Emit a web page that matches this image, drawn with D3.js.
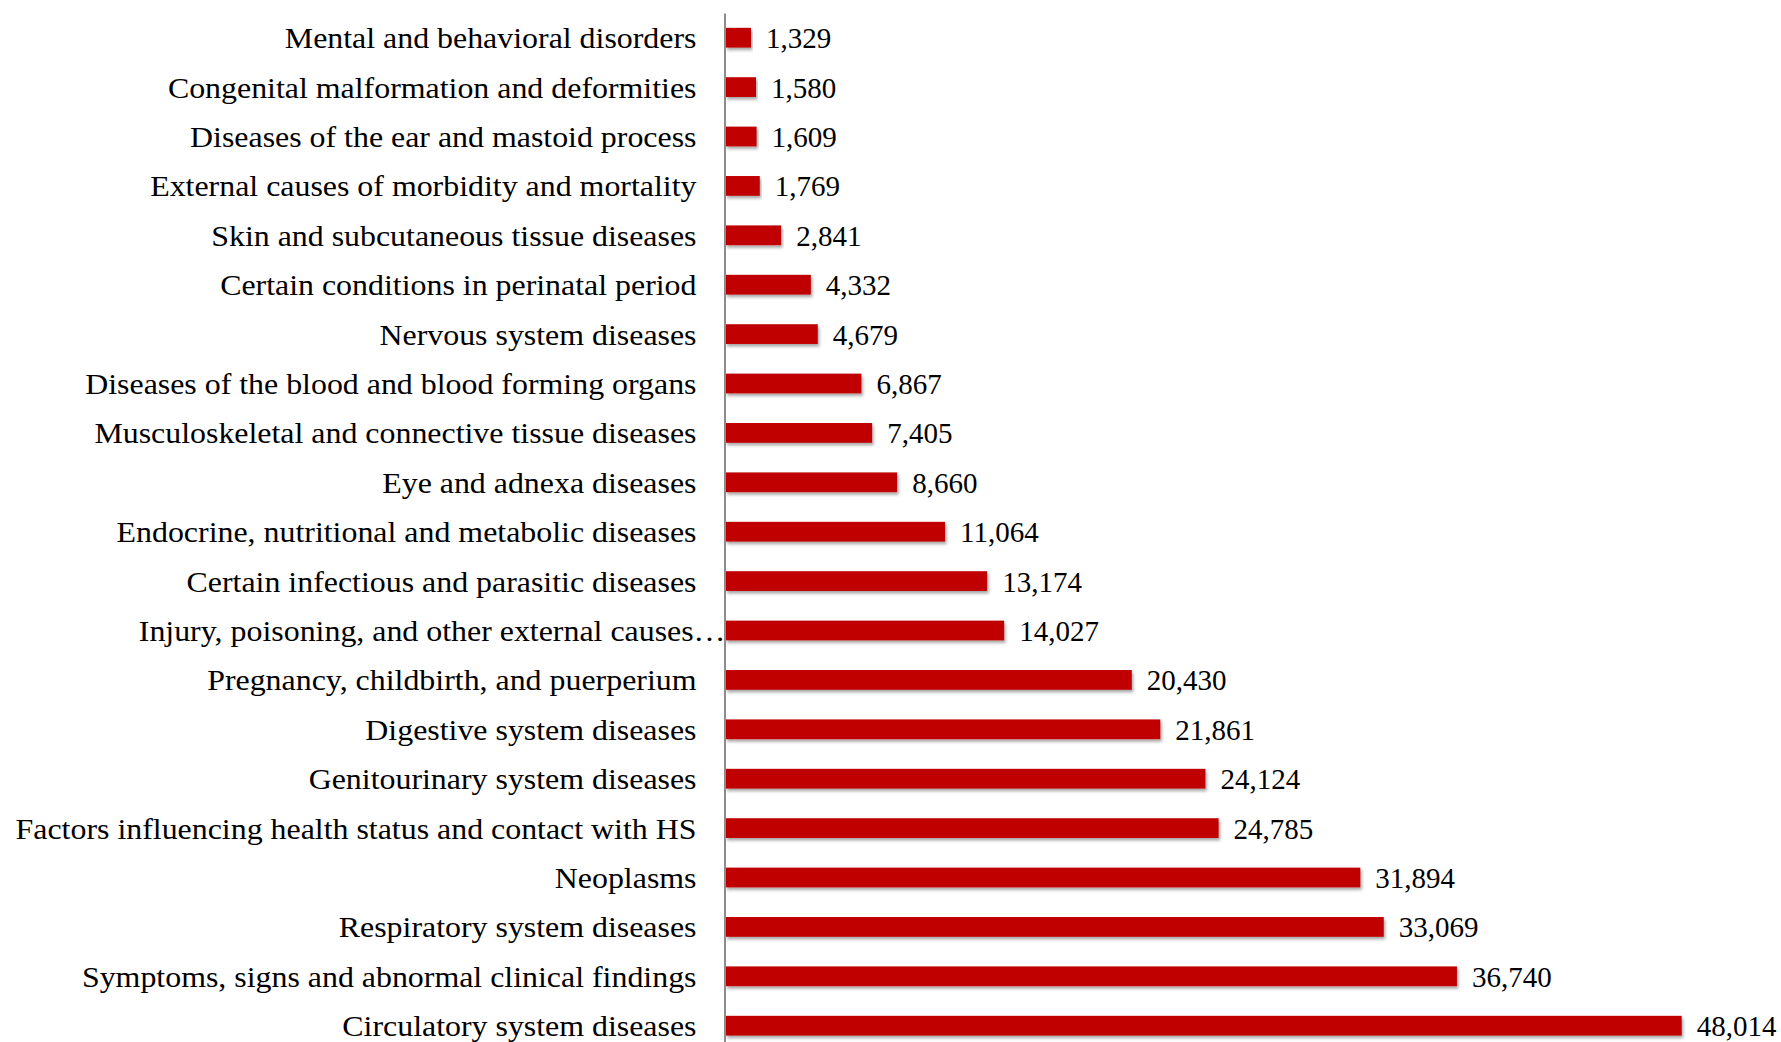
<!DOCTYPE html>
<html>
<head>
<meta charset="utf-8">
<script src="https://cdn.jsdelivr.net/npm/d3@7"></script>
<style>
  html, body { margin: 0; padding: 0; background: #ffffff; overflow: hidden; }
  svg { display: block; }
</style>
</head>
<body>
<svg id="chart" width="1781" height="1042"></svg>
<script>
const categories = [
  "Mental and behavioral disorders",
  "Congenital malformation and deformities",
  "Diseases of the ear and mastoid process",
  "External causes of morbidity and mortality",
  "Skin and subcutaneous tissue diseases",
  "Certain conditions in perinatal period",
  "Nervous system diseases",
  "Diseases of the blood and blood forming organs",
  "Musculoskeletal and connective tissue diseases",
  "Eye and adnexa diseases",
  "Endocrine, nutritional and metabolic diseases",
  "Certain infectious and parasitic diseases",
  "Injury, poisoning, and other external causes…",
  "Pregnancy, childbirth, and puerperium",
  "Digestive system diseases",
  "Genitourinary system diseases",
  "Factors influencing health status and contact with HS",
  "Neoplasms",
  "Respiratory system diseases",
  "Symptoms, signs and abnormal clinical findings",
  "Circulatory system diseases"
];
const values = [1329, 1580, 1609, 1769, 2841, 4332, 4679, 6867, 7405, 8660, 11064, 13174, 14027, 20430, 21861, 24124, 24785, 31894, 33069, 36740, 48014];

const svg = d3.select("#chart");
const x0 = 724.5;
const x = d3.scaleLinear().domain([0, 48014]).range([x0, 1681.7]);
const y = d3.scaleBand().domain(categories).range([13, 13 + 49.4 * categories.length]).paddingInner(0.6).paddingOuter(0.3);

const defs = svg.append("defs");
const f = defs.append("filter").attr("id", "shadow").attr("x", "-5%").attr("y", "-50%").attr("width", "110%").attr("height", "220%");
f.append("feDropShadow").attr("dx", 1.5).attr("dy", 2.5).attr("stdDeviation", 1.6)
  .attr("flood-color", "#000").attr("flood-opacity", 0.35);

const fmt = d3.format(",");
const data = categories.map((c, i) => ({ c, v: values[i] }));
const font = "'Liberation Serif', 'Times New Roman', serif";

// bars
svg.append("g").selectAll("rect").data(data).join("rect")
  .attr("x", x(0) + 1)
  .attr("y", d => y(d.c))
  .attr("width", d => x(d.v) - x(0) - 1)
  .attr("height", y.bandwidth())
  .attr("fill", "#C00000")
  .attr("filter", "url(#shadow)");

// axis line
const yAxis = d3.axisLeft(y).tickSize(0).tickFormat("");
const ag = svg.append("g").attr("transform", `translate(${x0},0)`).call(yAxis);
ag.select(".domain").attr("stroke", "#8c8c8c").attr("stroke-width", 2);

// category labels (slightly wide-set, as in the reference)
svg.append("g").selectAll("text").data(data).join("text")
  .attr("transform", d => `translate(${d.c.endsWith("…") ? x0 + 1 : x0 - 28},${y(d.c) + y.bandwidth() / 2}) scale(1.1,1)`)
  .attr("dy", "0.36em")
  .attr("text-anchor", "end")
  .attr("font-family", font)
  .attr("font-size", 29)
  .attr("fill", "#000")
  .text(d => d.c);

// value labels
svg.append("g").selectAll("text").data(data).join("text")
  .attr("x", d => x(d.v) + 15)
  .attr("y", d => y(d.c) + y.bandwidth() / 2)
  .attr("dy", "0.36em")
  .attr("text-anchor", "start")
  .attr("font-family", font)
  .attr("font-size", 29)
  .attr("fill", "#000")
  .text(d => fmt(d.v));
</script>
</body>
</html>
